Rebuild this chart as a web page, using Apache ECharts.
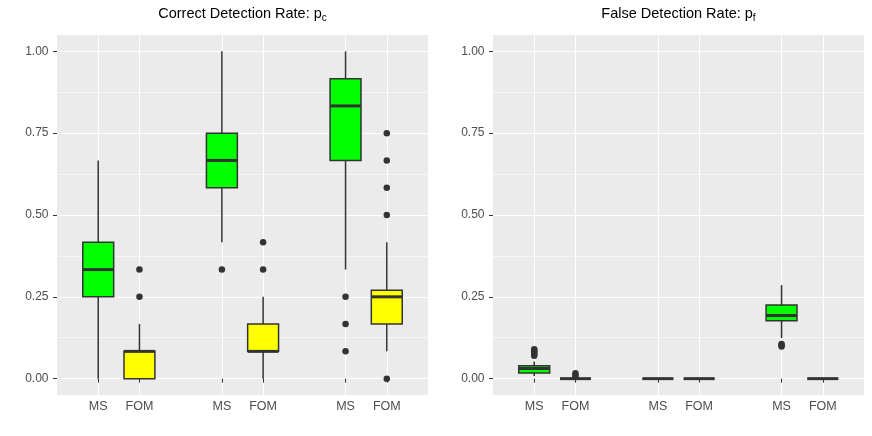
<!DOCTYPE html>
<html>
<head>
<meta charset="utf-8">
<title>Detection rates</title>
<script src="https://cdn.jsdelivr.net/npm/echarts@6/dist/echarts.min.js"></script>
<style>
html, body { margin: 0; padding: 0; background: #fff; }
#chart { width: 872px; height: 436px; }
</style>
</head>
<body>
<div id="chart"></div>
<script>
const categories = ['', 'MS', 'FOM', '', 'MS', 'FOM', '', 'MS', 'FOM', ''];
const boxSlots = [1, 2, 4, 5, 7, 8];
const boxMethods = ['MS', 'FOM', 'MS', 'FOM', 'MS', 'FOM'];
const yTicks = [0, 0.25, 0.5, 0.75, 1];
const yMinorTicks = [0.125, 0.375, 0.625, 0.875];

// [min, Q1, median, Q3, max] per box
const correctStats = [
    [0, 0.25, 0.3333, 0.4167, 0.6667],
    [0, 0, 0.0833, 0.0833, 0.1667],
    [0.4167, 0.5833, 0.6667, 0.75, 1],
    [0, 0.0833, 0.0833, 0.1667, 0.25],
    [0.3333, 0.6667, 0.8333, 0.9167, 1],
    [0.0833, 0.1667, 0.25, 0.27, 0.4167]
];
const correctOutliers = [
    [],
    [0.25, 0.3333],
    [0.3333],
    [0.3333, 0.4167],
    [0.0833, 0.1667, 0.25],
    [0, 0.5, 0.5833, 0.6667, 0.75]
];
const falseStats = [
    [0.008, 0.017, 0.031, 0.039, 0.052],
    [0, 0, 0, 0, 0],
    [0, 0, 0, 0, 0],
    [0, 0, 0, 0, 0],
    [0.124, 0.177, 0.193, 0.225, 0.286],
    [0, 0, 0, 0, 0]
];
const falseOutliers = [
    [0.07, 0.074, 0.078, 0.082, 0.086, 0.09],
    [0.005, 0.01, 0.0167],
    [],
    [],
    [0.098, 0.102, 0.106],
    []
];

const fills = { MS: '#00ff00', FOM: '#ffff00' };
const ink = '#333333';
const font = '"Liberation Sans", Arial, sans-serif';
const showSlot = (index, value) => value !== '';

function renderBox(params, api) {
    const x = api.value(0);
    const lo = api.coord([x, api.value(1)]);
    const q1 = api.coord([x, api.value(2)]);
    const med = api.coord([x, api.value(3)]);
    const q3 = api.coord([x, api.value(4)]);
    const hi = api.coord([x, api.value(5)]);
    const half = api.size([1, 0])[0] * 0.75 / 2;
    const cx = lo[0];
    const thin = { stroke: ink, lineWidth: 1.5 };
    return {
        type: 'group',
        children: [
            { type: 'line', shape: { x1: cx, y1: hi[1], x2: cx, y2: q3[1] }, style: thin },
            { type: 'line', shape: { x1: cx, y1: q1[1], x2: cx, y2: lo[1] }, style: thin },
            {
                type: 'rect',
                shape: { x: cx - half, y: q3[1], width: 2 * half, height: q1[1] - q3[1] },
                style: { fill: fills[boxMethods[params.dataIndex]], stroke: ink, lineWidth: 1.5 }
            },
            {
                type: 'line',
                shape: { x1: cx - half, y1: med[1], x2: cx + half, y2: med[1] },
                style: { stroke: ink, lineWidth: 3 }
            }
        ]
    };
}

function xAxisFor(gridIndex) {
    return {
        type: 'category',
        gridIndex: gridIndex,
        data: categories,
        boundaryGap: false,
        axisLine: { show: false },
        axisTick: { show: true, interval: showSlot, length: 4, lineStyle: { color: ink, width: 1 } },
        axisLabel: { interval: showSlot, color: '#4d4d4d', fontSize: 12.5, margin: 5, fontFamily: font },
        splitLine: { show: true, interval: showSlot, lineStyle: { color: '#ffffff', width: 1.1 } }
    };
}

function yAxesFor(gridIndex) {
    return [{
        type: 'value',
        gridIndex: gridIndex,
        min: -0.05,
        max: 1.05,
        axisLine: { show: false },
        axisTick: { show: true, customValues: yTicks, length: 4, lineStyle: { color: ink, width: 1 } },
        axisLabel: {
            customValues: yTicks, color: '#4d4d4d', fontSize: 12, margin: 8.5, fontFamily: font,
            formatter: v => v.toFixed(2)
        },
        splitLine: { show: true, lineStyle: { color: '#ffffff', width: 1.1 } }
    }, {
        type: 'value',
        gridIndex: gridIndex,
        position: 'left',
        min: -0.05,
        max: 1.05,
        axisLine: { show: false },
        axisTick: { show: false, customValues: yMinorTicks },
        axisLabel: { show: false },
        splitLine: { show: true, lineStyle: { color: '#ffffff', width: 0.6 } }
    }];
}

function boxSeries(stats, xi, yi) {
    return {
        type: 'custom',
        xAxisIndex: xi,
        yAxisIndex: yi,
        renderItem: renderBox,
        data: stats.map((s, i) => [boxSlots[i]].concat(s)),
        z: 3
    };
}

function outlierSeries(outliers, xi, yi) {
    const pts = [];
    outliers.forEach((list, i) => {
        list.forEach(v => pts.push([boxSlots[i], v]));
    });
    return {
        type: 'scatter',
        xAxisIndex: xi,
        yAxisIndex: yi,
        symbolSize: 6.5,
        itemStyle: { color: ink, opacity: 1 },
        data: pts,
        z: 4
    };
}

function panelTitle(x, main, sub) {
    return {
        type: 'text',
        x: x,
        y: 14,
        style: {
            text: '{m|' + main + '}{s|' + sub + '}',
            align: 'center',
            verticalAlign: 'middle',
            textAlign: 'center',
            textVerticalAlign: 'middle',
            fill: '#000',
            rich: {
                m: { fontSize: 14.5, fontFamily: font, lineHeight: 18, verticalAlign: 'middle', fill: '#000' },
                s: { fontSize: 10, fontFamily: font, lineHeight: 10, verticalAlign: 'bottom', fill: '#000' }
            }
        }
    };
}

const option = {
    animation: false,
    textStyle: { fontFamily: font },
    grid: [
        { left: 57, top: 35, width: 371, height: 360, show: true, backgroundColor: '#ebebeb', borderWidth: 0 },
        { left: 493, top: 35, width: 371, height: 360, show: true, backgroundColor: '#ebebeb', borderWidth: 0 }
    ],
    xAxis: [xAxisFor(0), xAxisFor(1)],
    yAxis: yAxesFor(0).concat(yAxesFor(1)),
    series: [
        boxSeries(correctStats, 0, 0),
        outlierSeries(correctOutliers, 0, 0),
        boxSeries(falseStats, 1, 2),
        outlierSeries(falseOutliers, 1, 2)
    ],
    graphic: [
        panelTitle(242.5, 'Correct Detection Rate: p', 'c'),
        panelTitle(678.5, 'False Detection Rate: p', 'f')
    ]
};

const chart = echarts.init(document.getElementById('chart'));
chart.setOption(option);
</script>
</body>
</html>
